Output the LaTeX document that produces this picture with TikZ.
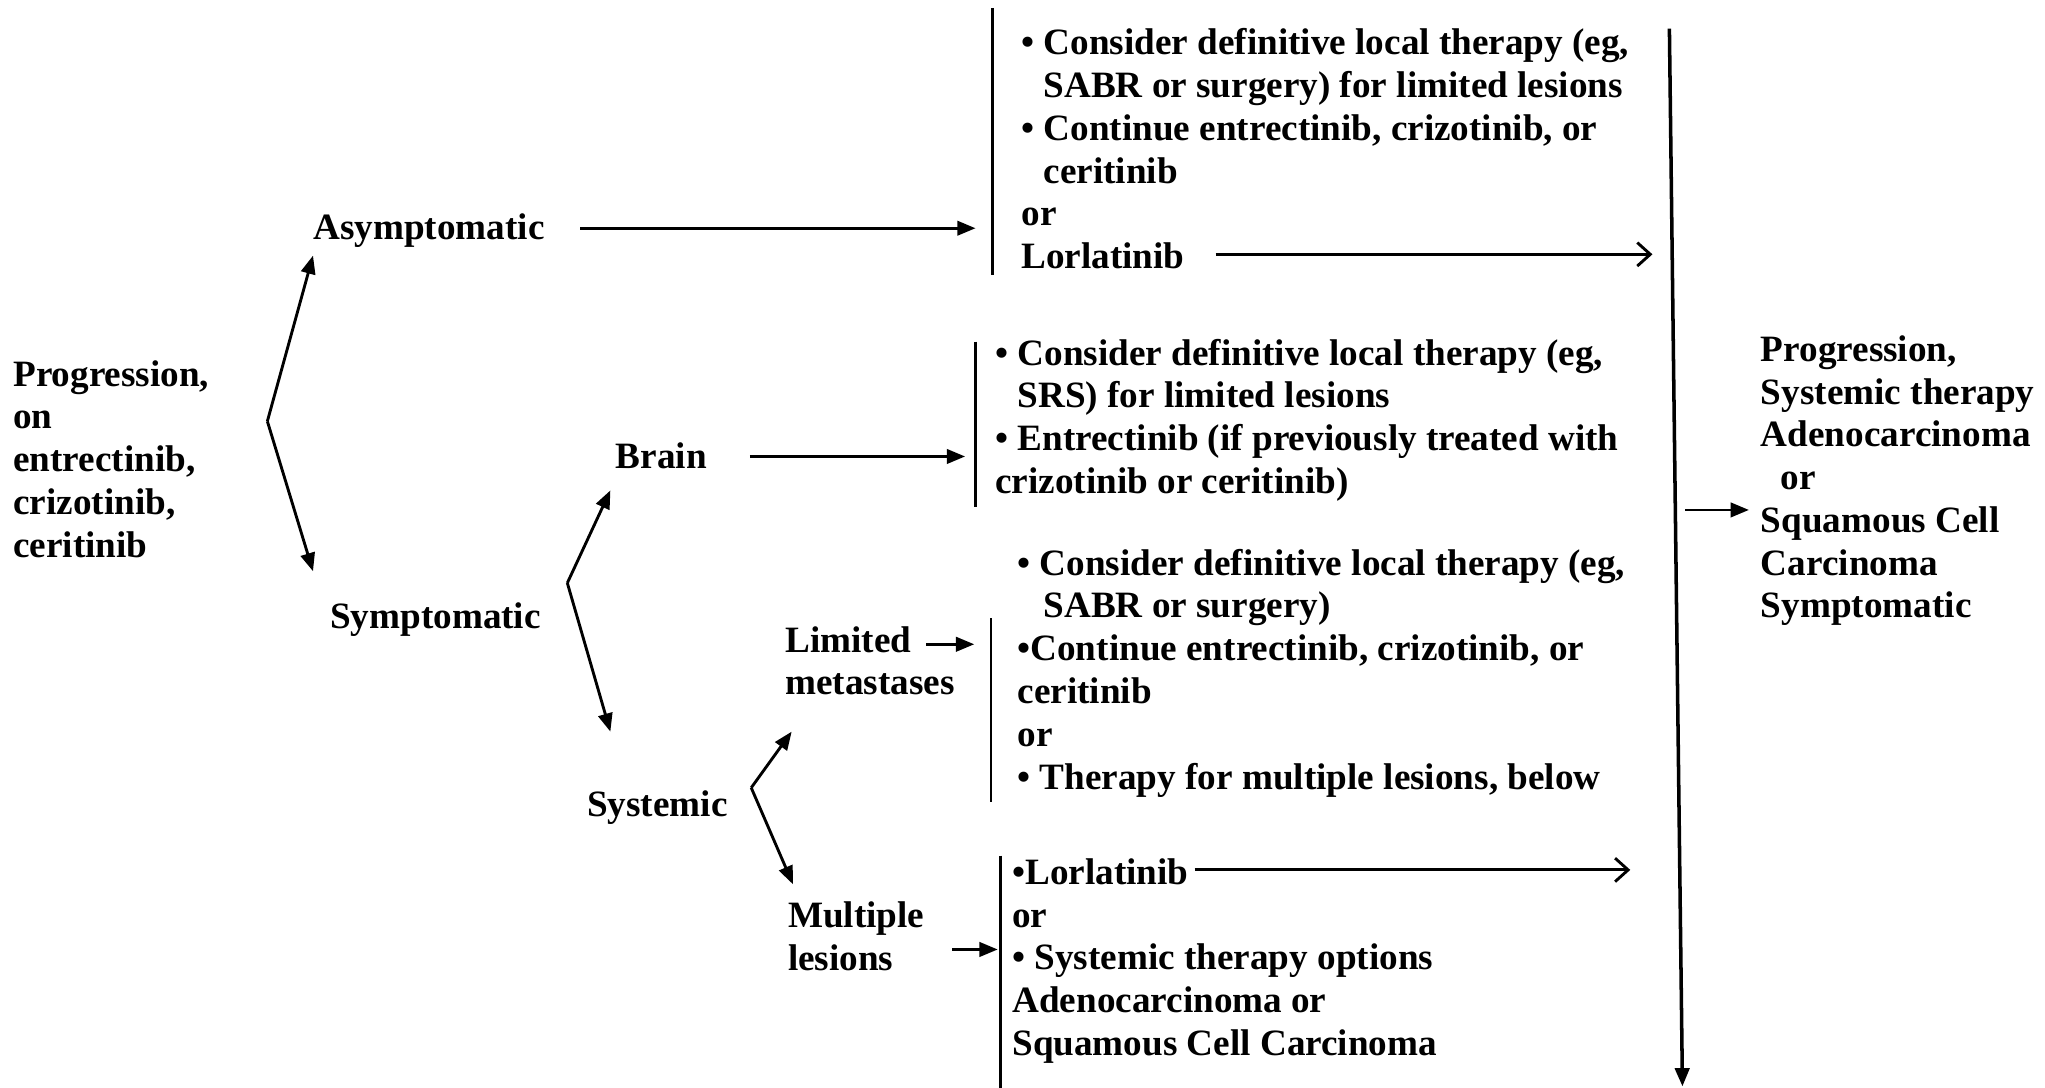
\documentclass[tikz,border=0pt]{standalone}
\usepackage{fontspec}
\setmainfont{Liberation Serif}
\usetikzlibrary{arrows.meta}
\begin{document}
\begin{tikzpicture}[x=1pt,y=-1pt,
  % multi-line labels are placed by the baseline of their last line
  txt/.style={anchor=base west, inner sep=0pt, align=left,
              font=\fontsize{28.5}{32.8}\selectfont\bfseries},
  ln/.style={line width=2.2pt},
  arr/.style={ln, -{Triangle[length=14pt,width=11pt]}},
  barb/.style={ln, -{Straight Barb[length=10pt,width=18pt]}},
  bar/.style={line width=1.9pt}]
\useasboundingbox (0,0) rectangle (1568,834);

% ---- decision labels ----
\node[txt] (prog) at (10,{296+4*32.8}) {Progression,\\on\\entrectinib,\\crizotinib,\\ceritinib};
\node[txt] (asym) at (240,184) {Asymptomatic};
\node[txt] (symp) at (253,482) {Symptomatic};
\node[txt] (brain) at (472,359) {Brain};
\node[txt] (syst) at (450,626) {Systemic};
\node[txt] (lim) at (602,{500+32.8}) {Limited\\metastases};
\node[txt] (mult) at (604,{711+32.8}) {Multiple\\lesions};

% ---- treatment blocks ----
\node[txt] (t1) at (783,{42+5*32.8}) {• Consider definitive local therapy (eg,\\
  \hspace*{17pt}SABR or surgery) for limited lesions\\
  • Continue entrectinib, crizotinib, or\\
  \hspace*{17pt}ceritinib\\
  or\\
  Lorlatinib};
\node[txt] (t2) at (763,{280+3*32.8}) {• Consider definitive local therapy (eg,\\
  \hspace*{17pt}SRS) for limited lesions\\
  • Entrectinib (if previously treated with\\
  crizotinib or ceritinib)};
\node[txt] (t3) at (780,{441+5*32.8}) {• Consider definitive local therapy (eg,\\
  \hspace*{20pt}SABR or surgery)\\
  •Continue entrectinib, crizotinib, or\\
  ceritinib\\
  or\\
  • Therapy for multiple lesions, below};
\node[txt] (t4) at (776,{678+4*32.8}) {•Lorlatinib\\
  or\\
  • Systemic therapy options\\
  Adenocarcinoma or\\
  Squamous Cell Carcinoma};
\node[txt] (res) at (1350,{277+6*32.8}) {Progression,\\Systemic therapy\\Adenocarcinoma\\
  \hspace*{15pt}or\\Squamous Cell\\Carcinoma\\Symptomatic};

% ---- bars in front of the blocks ----
\coordinate (bar1t) at (761,6);   \coordinate (bar1b) at (761,211);
\coordinate (bar2t) at (748,262); \coordinate (bar2b) at (748,389);
\coordinate (bar3t) at (760,474); \coordinate (bar3b) at (760,615);
\coordinate (bar4t) at (767,656); \coordinate (bar4b) at (767,834);
\draw[bar] (bar1t) -- (bar1b);
\draw[bar] (bar2t) -- (bar2b);
\draw[bar] (bar3t) -- (bar3b);
\draw[bar] (bar4t) -- (bar4b);

% ---- branching brackets ----
\coordinate (k1) at (205,323);
\coordinate (k1u) at (240,196); \coordinate (k1d) at (240,438);
\draw[arr] (k1) -- (k1u);
\draw[arr] (k1) -- (k1d);
\coordinate (k2) at (435,447);
\coordinate (k2u) at (468,376); \coordinate (k2d) at (468,561);
\draw[arr] (k2) -- (k2u);
\draw[arr] (k2) -- (k2d);
\coordinate (k3) at (576,604);
\coordinate (k3u) at (607,561); \coordinate (k3d) at (608,678);
\draw[arr] (k3) -- (k3u);
\draw[arr] (k3) -- (k3d);

% ---- horizontal connectors ----
\coordinate (a1s) at (445,175); \coordinate (a1e) at (748,175);
\draw[arr] (a1s) -- (a1e);
\coordinate (a2s) at (575,350); \coordinate (a2e) at (740,350);
\draw[arr] (a2s) -- (a2e);
\coordinate (a3s) at (710,494); \coordinate (a3e) at (747,494);
\draw[arr] (a3s) -- (a3e);
\coordinate (a4s) at (730,728); \coordinate (a4e) at (765,728);
\draw[arr] (a4s) -- (a4e);
\coordinate (l1s) at (932,195); \coordinate (l1e) at (1267,195);
\draw[barb] (l1s) -- (l1e);
\coordinate (l2s) at (916,667); \coordinate (l2e) at (1250,667);
\draw[barb] (l2s) -- (l2e);

% ---- collecting line and result ----
\coordinate (vt) at (1280,22); \coordinate (vb) at (1290,833);
\draw[arr, line width=2.7pt] (vt) -- (vb);
\coordinate (rs) at (1292,391); \coordinate (re) at (1341,391);
\draw[arr] (rs) -- (re);
\end{tikzpicture}
\end{document}
